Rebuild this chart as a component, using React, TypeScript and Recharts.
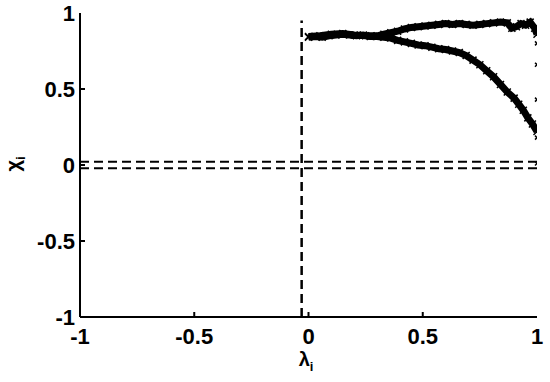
import { ComposedChart, Line, XAxis, YAxis, ReferenceLine, Scatter } from 'recharts';

// lower branch: flat, then bends down towards x = 1
const lowerBranch = [
  { x: 0.0, y: 0.84 }, { x: 0.03, y: 0.845 }, { x: 0.06, y: 0.84 }, { x: 0.09, y: 0.85 },
  { x: 0.12, y: 0.855 }, { x: 0.15, y: 0.86 }, { x: 0.18, y: 0.855 }, { x: 0.21, y: 0.85 },
  { x: 0.24, y: 0.855 }, { x: 0.27, y: 0.845 }, { x: 0.3, y: 0.845 }, { x: 0.33, y: 0.84 },
  { x: 0.36, y: 0.835 }, { x: 0.39, y: 0.82 }, { x: 0.42, y: 0.81 }, { x: 0.45, y: 0.8 },
  { x: 0.48, y: 0.79 }, { x: 0.51, y: 0.785 }, { x: 0.54, y: 0.775 }, { x: 0.57, y: 0.765 },
  { x: 0.6, y: 0.76 }, { x: 0.63, y: 0.75 }, { x: 0.66, y: 0.74 }, { x: 0.69, y: 0.72 },
  { x: 0.72, y: 0.69 }, { x: 0.75, y: 0.66 }, { x: 0.78, y: 0.62 }, { x: 0.81, y: 0.58 },
  { x: 0.84, y: 0.53 }, { x: 0.87, y: 0.48 }, { x: 0.9, y: 0.44 }, { x: 0.92, y: 0.4 },
  { x: 0.94, y: 0.36 }, { x: 0.96, y: 0.31 }, { x: 0.98, y: 0.27 }, { x: 1.0, y: 0.22 },
];

// upper branch: splits off near 0.3 and levels out around 0.93
const upperBranch = [
  { x: 0.0, y: 0.845 }, { x: 0.05, y: 0.85 }, { x: 0.1, y: 0.86 }, { x: 0.15, y: 0.865 },
  { x: 0.2, y: 0.855 }, { x: 0.25, y: 0.85 }, { x: 0.3, y: 0.85 }, { x: 0.33, y: 0.86 },
  { x: 0.36, y: 0.87 }, { x: 0.39, y: 0.88 }, { x: 0.42, y: 0.895 }, { x: 0.45, y: 0.905 },
  { x: 0.48, y: 0.91 }, { x: 0.51, y: 0.915 }, { x: 0.54, y: 0.92 }, { x: 0.57, y: 0.925 },
  { x: 0.6, y: 0.93 }, { x: 0.63, y: 0.925 }, { x: 0.66, y: 0.93 }, { x: 0.69, y: 0.925 },
  { x: 0.72, y: 0.92 }, { x: 0.75, y: 0.925 }, { x: 0.78, y: 0.93 }, { x: 0.81, y: 0.935 },
  { x: 0.84, y: 0.94 }, { x: 0.87, y: 0.935 }, { x: 0.89, y: 0.9 }, { x: 0.91, y: 0.91 },
  { x: 0.93, y: 0.93 }, { x: 0.95, y: 0.92 }, { x: 0.97, y: 0.94 }, { x: 0.99, y: 0.9 },
  { x: 1.0, y: 0.86 },
];

// a few stray markers sitting on the right edge
const strayPoints = [
  { x: 1.0, y: 0.8 }, { x: 1.0, y: 0.66 }, { x: 1.0, y: 0.43 }, { x: 1.0, y: 0.18 }, { x: 1.0, y: 0.01 },
];

const ticks = [-1, -0.5, 0, 0.5, 1];
const thresholds = [0.022, -0.022];
const splitX = -0.03;
const splitTop = 0.95;

const FONT = '"Liberation Sans", Arial, sans-serif';

const Cross = (props: any) => {
  const { cx, cy, size = 3.5 } = props;
  if (cx == null || cy == null) return null;
  const s = size;
  return (
    <g stroke="#000" strokeWidth={1.5}>
      <line x1={cx - s} y1={cy - s} x2={cx + s} y2={cy + s} />
      <line x1={cx - s} y1={cy + s} x2={cx + s} y2={cy - s} />
    </g>
  );
};

const SmallCross = (props: any) => <Cross {...props} size={2} />;

const BottomTick = (props: any) => {
  const { x, y, payload } = props;
  const edge = payload.value === -1 || payload.value === 1;
  return (
    <g>
      {!edge && <line x1={x} y1={y} x2={x} y2={y - 5} stroke="#000" strokeWidth={2} />}
      <text x={x} y={y + 27} textAnchor="middle" fontFamily={FONT} fontWeight="bold" fontSize={22} fill="#000">
        {payload.value}
      </text>
    </g>
  );
};

const LeftTick = (props: any) => {
  const { x, y, payload } = props;
  const edge = payload.value === -1 || payload.value === 1;
  return (
    <g>
      {!edge && <line x1={x} y1={y} x2={x + 5} y2={y} stroke="#000" strokeWidth={2} />}
      <text x={x - 5} y={y + 8} textAnchor="end" fontFamily={FONT} fontWeight="bold" fontSize={22} fill="#000">
        {payload.value}
      </text>
    </g>
  );
};

const TopTick = (props: any) => {
  const { x, y, payload } = props;
  if (payload.value === -1 || payload.value === 1) return null;
  return <line x1={x} y1={y} x2={x} y2={y + 5} stroke="#000" strokeWidth={2} />;
};

const RightTick = (props: any) => {
  const { x, y, payload } = props;
  if (payload.value === -1 || payload.value === 1) return null;
  return <line x1={x} y1={y} x2={x - 5} y2={y} stroke="#000" strokeWidth={2} />;
};

export default function App() {
  return (
    <div style={{ position: 'absolute', left: 0, top: 0, background: '#fff' }}>
      <ComposedChart width={550} height={382} margin={{ top: 13, right: 13, bottom: 0, left: 0 }}>
        <XAxis
          dataKey="x"
          type="number"
          domain={[-1, 1]}
          ticks={ticks}
          allowDataOverflow
          height={65}
          tickSize={0}
          tickMargin={0}
          tickLine={false}
          axisLine={{ stroke: '#000', strokeWidth: 2 }}
          tick={<BottomTick />}
          interval={0}
        />
        <XAxis
          xAxisId="top"
          orientation="top"
          type="number"
          domain={[-1, 1]}
          ticks={ticks}
          allowDataOverflow
          height={0}
          tickSize={0}
          tickMargin={0}
          tickLine={false}
          axisLine={{ stroke: '#000', strokeWidth: 2 }}
          tick={<TopTick />}
          interval={0}
        />
        <YAxis
          type="number"
          domain={[-1, 1]}
          ticks={ticks}
          allowDataOverflow
          width={80}
          tickSize={0}
          tickMargin={0}
          tickLine={false}
          axisLine={{ stroke: '#000', strokeWidth: 2 }}
          tick={<LeftTick />}
          interval={0}
        />
        <YAxis
          yAxisId="right"
          orientation="right"
          type="number"
          domain={[-1, 1]}
          ticks={ticks}
          allowDataOverflow
          width={0}
          tickSize={0}
          tickMargin={0}
          tickLine={false}
          axisLine={{ stroke: '#000', strokeWidth: 2 }}
          tick={<RightTick />}
          interval={0}
        />
        {thresholds.map((t) => (
          <ReferenceLine key={t} y={t} stroke="#000" strokeWidth={2} strokeDasharray="9 5" />
        ))}
        <ReferenceLine
          segment={[{ x: splitX, y: -1 }, { x: splitX, y: splitTop }]}
          stroke="#000"
          strokeWidth={2.5}
          strokeDasharray="9 5"
        />
        <Line
          data={lowerBranch}
          dataKey="y"
          stroke="#000"
          strokeWidth={7}
          dot={<Cross />}
          isAnimationActive={false}
        />
        <Line
          data={upperBranch}
          dataKey="y"
          stroke="#000"
          strokeWidth={7}
          dot={<Cross />}
          isAnimationActive={false}
        />
        <Scatter data={strayPoints} dataKey="y" shape={<SmallCross />} isAnimationActive={false} />
      </ComposedChart>
      <div
        style={{
          position: 'absolute',
          left: 15,
          top: 164,
          transform: 'translate(-50%, -50%) rotate(-90deg)',
          fontFamily: FONT,
          fontWeight: 'bold',
          fontSize: 20,
          whiteSpace: 'nowrap',
        }}
      >
        χ<sub style={{ fontSize: 13 }}>i</sub>
      </div>
      <div
        style={{
          position: 'absolute',
          left: 306,
          top: 361,
          transform: 'translate(-50%, -50%)',
          fontFamily: FONT,
          fontWeight: 'bold',
          fontSize: 20,
          whiteSpace: 'nowrap',
        }}
      >
        λ<sub style={{ fontSize: 13 }}>i</sub>
      </div>
    </div>
  );
}
